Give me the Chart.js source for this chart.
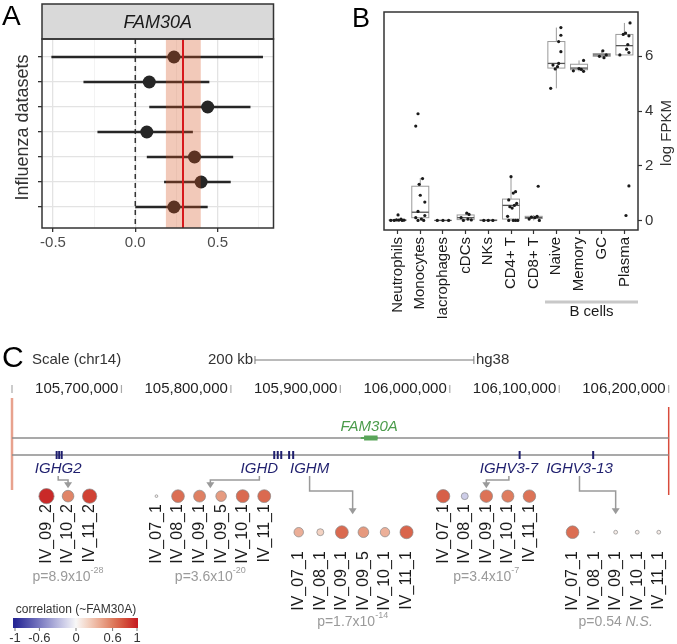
<!DOCTYPE html>
<html>
<head>
<meta charset="utf-8">
<script src="https://cdn.jsdelivr.net/npm/chart.js@4.4.1/dist/chart.umd.min.js"></script>
<style>
    body { margin: 0; background: #fff; width: 677px; height: 644px; position: relative; overflow: hidden; }
    canvas { position: absolute; }
    #chartA { left: 0; top: 0; }
    #chartB { left: 280px; top: 0; }
    #chartC { left: 0; top: 318px; }
</style>
</head>
<body>
<canvas id="chartA" width="280" height="260"></canvas>
<canvas id="chartB" width="397" height="318"></canvas>
<canvas id="chartC" width="677" height="326"></canvas>
<script>
const FONT = "'Liberation Sans', Arial, sans-serif";
Chart.defaults.font.family = FONT;
Chart.defaults.animation = false;
Chart.defaults.plugins.legend.display = false;
Chart.defaults.plugins.tooltip.enabled = false;

// ---- Panel A: effect sizes per influenza dataset ----
const datasetRows = [1, 2, 3, 4, 5, 6, 7];
const effectEst = [0.235, 0.085, 0.44, 0.07, 0.36, 0.40, 0.235];
const effectLow = [-0.51, -0.315, 0.085, -0.23, 0.07, 0.175, 0.0];
const effectHigh = [0.776, 0.45, 0.70, 0.35, 0.595, 0.58, 0.44];
const metaEst = 0.29;
const metaLow = 0.186;
const metaHigh = 0.398;
const xTicksA = [-0.5, -0.25, 0, 0.25, 0.5, 0.75];
const xLabelsA = [-0.5, 0, 0.5];

// ---- Panel B: FAM30A expression per cell type ----
const cellTypes = ['Neutrophils', 'Monocytes', 'Macrophages', 'cDCs', 'NKs', 'CD4+ T', 'CD8+ T', 'Naive', 'Memory', 'GC', 'Plasma'];
const cellValues = [
    [0, 0, 0.01, 0, 0.02, 0.05, 0.2, 0.01],
    [0, 0, 0.05, 0.1, 0.18, 0.33, 0.67, 0.92, 1.32, 1.53, 3.45, 3.9],
    [0, 0, 0],
    [0, 0.02, 0.05, 0.1, 0.22, 0.27],
    [0, 0, 0],
    [0, 0, 0, 0, 0.15, 0.45, 0.5, 0.55, 0.62, 0.75, 1.0, 1.05, 1.6],
    [0, 0.05, 0.1, 0.12, 0.15, 1.25],
    [4.83, 5.54, 5.62, 5.68, 5.74, 6.17, 6.54, 6.77, 7.05],
    [5.45, 5.47, 5.52, 5.55, 5.85],
    [5.95, 6.0, 6.05, 6.2],
    [0.18, 1.26, 6.05, 6.14, 6.26, 6.43, 6.75, 6.8, 6.85, 7.22]
];
const cellJitter = [
    [-0.3, -0.15, 0.05, 0.2, -0.05, 0.15, 0.02, 0.28],
    [-0.1, 0.15, 0.05, -0.2, 0.2, -0.1, 0.2, 0.0, -0.05, 0.1, -0.2, -0.1],
    [-0.25, 0, 0.25],
    [-0.1, 0.25, 0.1, -0.2, 0.15, 0.05],
    [-0.2, 0, 0.2],
    [-0.1, 0.1, 0.2, 0.3, -0.15, 0.05, -0.05, 0.15, 0.25, -0.1, 0.1, 0.2, 0.0],
    [0.25, -0.2, 0.05, -0.1, 0.15, 0.2],
    [-0.25, -0.05, 0.05, -0.15, 0.1, 0.2, 0.1, 0.2, 0.2],
    [0.2, -0.25, 0.1, 0.0, 0.2],
    [0.1, -0.1, 0.2, 0.05],
    [0.07, 0.2, -0.2, 0.2, 0.1, 0.15, 0.2, -0.05, 0.05, 0.25]
];
const boxLow = [0, 0, 0, 0, 0, 0, 0, 4.83, 5.45, 5.95, 6.05];
const boxQ1 = [0, 0.1, 0, 0.03, 0, 0.05, 0.07, 5.57, 5.51, 6.0, 6.05];
const boxMed = [0.01, 0.3, 0, 0.1, 0, 0.55, 0.1, 5.74, 5.57, 6.05, 6.39];
const boxQ3 = [0.02, 1.25, 0, 0.2, 0.02, 0.78, 0.15, 6.54, 5.71, 6.1, 6.8];
const boxHigh = [0.05, 1.55, 0, 0.27, 0, 1.6, 0.2, 7.05, 5.85, 6.2, 7.22];
const yTicksB = [0, 2, 4, 6];

// ---- Panel C: IGH locus genes and FAM30A correlations ----
const coordTicks = [105700000, 105800000, 105900000, 106000000, 106100000, 106200000];
const geneNames = ['IGHG2', 'IGHD', 'IGHM', 'IGHV3-7', 'IGHV3-13'];
const geneExons = [
    [105640800, 105643100, 105645400],
    [105839600, 105842800, 105846000],
    [105853200, 105856900],
    [106063800],
    [106131000]
];
const geneLabelAt = [105642200, 105826000, 105871900, 106054000, 106118500];
const fam30aStart = 105918600;
const fam30aEnd = 105934000;
const sampleIds = [
    ['IV_09_2', 'IV_10_2', 'IV_11_2'],
    ['IV_07_1', 'IV_08_1', 'IV_09_1', 'IV_09_5', 'IV_10_1', 'IV_11_1'],
    ['IV_07_1', 'IV_08_1', 'IV_09_1', 'IV_09_5', 'IV_10_1', 'IV_11_1'],
    ['IV_07_1', 'IV_08_1', 'IV_09_1', 'IV_10_1', 'IV_11_1'],
    ['IV_07_1', 'IV_08_1', 'IV_09_1', 'IV_10_1', 'IV_11_1']
];
const corrValues = [
    [0.95, 0.56, 0.85],
    [0.03, 0.66, 0.58, 0.46, 0.68, 0.68],
    [0.37, 0.2, 0.68, 0.47, 0.36, 0.7],
    [0.72, -0.2, 0.64, 0.6, 0.64],
    [0.66, 0.005, 0.06, 0.06, 0.06]
];
const pMantissa = ['8.9', '3.6', '1.7', '3.4', '0.54'];
const pExponent = ['-28', '-20', '-14', '-7', ''];
const pNote = ['', '', '', '', 'N.S.'];
const cbTicks = [-1, -0.6, 0, 0.6, 1];

// layout of the bubble groups (slot units / row index)
const groupSlot = [1.6, 6.7, 13.3, 20.0, 26.0];
const groupRow = [0, 0, 1, 0, 1];

const posStops = [[0, [248, 248, 248]], [0.2, [243, 210, 194]], [0.4, [234, 168, 143]], [0.6, [222, 124, 94]], [0.8, [211, 78, 58]], [1, [198, 28, 34]]];
const negStops = [[0, [248, 248, 248]], [0.2, [205, 205, 232]], [0.6, [120, 120, 192]], [1, [38, 38, 148]]];

function corrColor(c) {
    const stops = c >= 0 ? posStops : negStops;
    const a = Math.min(1, Math.abs(c));
    for (let i = 1; i < stops.length; i++) {
        if (a <= stops[i][0]) {
            const [v0, c0] = stops[i - 1];
            const [v1, c1] = stops[i];
            const t = (a - v0) / (v1 - v0);
            return `rgb(${c0.map((ch, k) => Math.round(ch + (c1[k] - ch) * t)).join(',')})`;
        }
    }
    return 'rgb(198,28,34)';
}

function vText(ctx, text, x, y, align) {
    ctx.save();
    ctx.translate(x, y);
    ctx.rotate(-Math.PI / 2);
    ctx.textAlign = align || 'center';
    ctx.textBaseline = 'middle';
    ctx.fillText(text, 0, 0);
    ctx.restore();
}

// ================= Panel A =================
const forestPlugin = {
    id: 'forest',
    beforeDatasetsDraw(chart) {
        const { ctx, chartArea: ca, scales: { x, y } } = chart;
        ctx.save();
        // dashed zero line
        ctx.strokeStyle = '#333';
        ctx.lineWidth = 1.5;
        ctx.setLineDash([5, 4]);
        ctx.beginPath();
        ctx.moveTo(x.getPixelForValue(0), ca.top);
        ctx.lineTo(x.getPixelForValue(0), ca.bottom);
        ctx.stroke();
        ctx.setLineDash([]);
        // confidence intervals
        ctx.strokeStyle = '#262626';
        ctx.lineWidth = 2.5;
        datasetRows.forEach((r, i) => {
            const py = y.getPixelForValue(r);
            ctx.beginPath();
            ctx.moveTo(x.getPixelForValue(effectLow[i]), py);
            ctx.lineTo(x.getPixelForValue(effectHigh[i]), py);
            ctx.stroke();
        });
        ctx.restore();
    },
    afterDatasetsDraw(chart) {
        const { ctx, chartArea: ca, scales: { x } } = chart;
        ctx.save();
        const x0 = x.getPixelForValue(metaLow);
        const x1 = x.getPixelForValue(metaHigh);
        ctx.fillStyle = 'rgba(214,80,30,0.31)';
        ctx.fillRect(x0, ca.top, x1 - x0, ca.bottom - ca.top);
        ctx.strokeStyle = '#d7191c';
        ctx.lineWidth = 2;
        ctx.beginPath();
        ctx.moveTo(x.getPixelForValue(metaEst), ca.top);
        ctx.lineTo(x.getPixelForValue(metaEst), ca.bottom);
        ctx.stroke();
        ctx.restore();
    },
    afterDraw(chart) {
        const { ctx, chartArea: ca } = chart;
        ctx.save();
        // facet strip
        ctx.fillStyle = '#d9d9d9';
        ctx.fillRect(ca.left, 4, ca.right - ca.left, ca.top - 4);
        ctx.strokeStyle = '#333';
        ctx.lineWidth = 1.5;
        ctx.strokeRect(ca.left, 4, ca.right - ca.left, ca.top - 4);
        ctx.strokeRect(ca.left, ca.top, ca.right - ca.left, ca.bottom - ca.top);
        ctx.fillStyle = '#1a1a1a';
        ctx.font = `italic 18px ${FONT}`;
        ctx.textAlign = 'center';
        ctx.textBaseline = 'middle';
        ctx.fillText('FAM30A', (ca.left + ca.right) / 2, (ca.top + 4) / 2 + 1);
        // axis title
        ctx.fillStyle = '#333';
        ctx.font = `18px ${FONT}`;
        vText(ctx, 'Influenza datasets', 23, (ca.top + ca.bottom) / 2 - 6);
        // panel letter
        ctx.fillStyle = '#000';
        ctx.font = `28px ${FONT}`;
        ctx.textAlign = 'left';
        ctx.textBaseline = 'alphabetic';
        ctx.fillText('A', 2, 25);
        ctx.restore();
    }
};

new Chart(document.getElementById('chartA'), {
    type: 'scatter',
    data: {
        datasets: [{
            data: datasetRows.map((r, i) => ({ x: effectEst[i], y: r })),
            pointRadius: 6.5,
            backgroundColor: '#262626',
            borderWidth: 0
        }]
    },
    options: {
        responsive: false,
        events: [],
        layout: { padding: { top: 39, right: 6, left: 0, bottom: 0 } },
        scales: {
            x: {
                type: 'linear',
                min: -0.567,
                max: 0.84,
                afterBuildTicks: s => { s.ticks = xTicksA.map(v => ({ value: v })); },
                afterFit: s => { s.height = 32; },
                border: { display: false },
                grid: {
                    color: c => xLabelsA.includes(c.tick && c.tick.value) ? '#e3e3e3' : '#f0f0f0',
                    lineWidth: c => xLabelsA.includes(c.tick && c.tick.value) ? 1.3 : 0.8,
                    tickColor: c => xLabelsA.includes(c.tick && c.tick.value) ? '#333' : 'rgba(0,0,0,0)',
                    tickLength: 4,
                    tickWidth: 1.3
                },
                ticks: {
                    autoSkip: false,
                    maxRotation: 0,
                    padding: 2,
                    color: '#4d4d4d',
                    font: { size: 15 },
                    callback: v => xLabelsA.includes(v) ? v.toFixed(1) : ''
                }
            },
            y: {
                type: 'linear',
                reverse: true,
                min: 0.28,
                max: 7.84,
                afterBuildTicks: s => { s.ticks = datasetRows.map(v => ({ value: v })); },
                afterFit: s => { s.width = 42; },
                border: { display: false },
                grid: { color: '#e3e3e3', lineWidth: 1.3, tickColor: '#333', tickLength: 4, tickWidth: 1.3 },
                ticks: { callback: () => '' }
            }
        }
    },
    plugins: [forestPlugin]
});

// ================= Panel B =================
const boxPlugin = {
    id: 'boxes',
    beforeDatasetsDraw(chart) {
        const { ctx, scales: { x, y } } = chart;
        const half = x.getPixelForValue(0.375) - x.getPixelForValue(0);
        ctx.save();
        ctx.lineWidth = 1;
        cellTypes.forEach((name, i) => {
            const cx = x.getPixelForValue(i);
            ctx.strokeStyle = '#9a9a9a';
            ctx.beginPath();
            ctx.moveTo(cx, y.getPixelForValue(boxLow[i]));
            ctx.lineTo(cx, y.getPixelForValue(boxQ1[i]));
            ctx.moveTo(cx, y.getPixelForValue(boxQ3[i]));
            ctx.lineTo(cx, y.getPixelForValue(boxHigh[i]));
            ctx.stroke();
            const top = y.getPixelForValue(boxQ3[i]);
            const bot = y.getPixelForValue(boxQ1[i]);
            ctx.fillStyle = '#fff';
            ctx.fillRect(cx - half, top, 2 * half, bot - top);
            ctx.strokeRect(cx - half, top, 2 * half, bot - top);
            ctx.strokeStyle = '#555';
            ctx.lineWidth = 1.3;
            ctx.beginPath();
            ctx.moveTo(cx - half, y.getPixelForValue(boxMed[i]));
            ctx.lineTo(cx + half, y.getPixelForValue(boxMed[i]));
            ctx.stroke();
            ctx.lineWidth = 1;
        });
        ctx.restore();
    },
    afterDraw(chart) {
        const { ctx, chartArea: ca, scales: { x } } = chart;
        ctx.save();
        ctx.strokeStyle = '#333';
        ctx.lineWidth = 1.5;
        ctx.strokeRect(ca.left, ca.top, ca.right - ca.left, ca.bottom - ca.top);
        // B cells bracket
        ctx.strokeStyle = '#c8c8c8';
        ctx.lineWidth = 3;
        ctx.beginPath();
        ctx.moveTo(x.getPixelForValue(6.5), 302);
        ctx.lineTo(x.getPixelForValue(10.6), 302);
        ctx.stroke();
        ctx.fillStyle = '#1a1a1a';
        ctx.font = `15px ${FONT}`;
        ctx.textAlign = 'center';
        ctx.textBaseline = 'middle';
        ctx.fillText('B cells', (x.getPixelForValue(6.5) + x.getPixelForValue(10.6)) / 2, 312);
        ctx.fillStyle = '#333';
        vText(ctx, 'log FPKM', 387, 133);
        ctx.fillStyle = '#000';
        ctx.font = `27px ${FONT}`;
        ctx.textAlign = 'left';
        ctx.textBaseline = 'alphabetic';
        ctx.fillText('B', 72, 27);
        ctx.restore();
    }
};

const pointsB = [];
cellValues.forEach((vals, i) => vals.forEach((v, k) => pointsB.push({ x: i + cellJitter[i][k], y: v })));

new Chart(document.getElementById('chartB'), {
    type: 'scatter',
    data: {
        datasets: [{
            data: pointsB,
            pointRadius: 1.6,
            backgroundColor: '#1a1a1a',
            borderWidth: 0
        }]
    },
    options: {
        responsive: false,
        events: [],
        layout: { padding: { top: 5, left: 104, right: 0, bottom: 0 } },
        scales: {
            x: {
                type: 'linear',
                min: -0.6,
                max: 10.6,
                afterBuildTicks: s => { s.ticks = cellTypes.map((c, i) => ({ value: i })); },
                afterFit: s => { s.height = 88; },
                border: { display: false },
                grid: { drawOnChartArea: false, tickColor: '#333', tickLength: 4, tickWidth: 1.2 },
                ticks: {
                    autoSkip: false,
                    minRotation: 90,
                    maxRotation: 90,
                    padding: 3,
                    color: '#1a1a1a',
                    font: { size: 15 },
                    callback: v => cellTypes[v]
                }
            },
            y: {
                type: 'linear',
                position: 'right',
                min: -0.35,
                max: 7.62,
                afterBuildTicks: s => { s.ticks = yTicksB.map(v => ({ value: v })); },
                afterFit: s => { s.width = 39; },
                border: { display: false },
                grid: { drawOnChartArea: false, tickColor: '#333', tickLength: 4, tickWidth: 1.2 },
                ticks: { padding: 3, color: '#333', font: { size: 15 } }
            }
        }
    },
    plugins: [boxPlugin]
});

// ================= Panel C =================
function drawP(ctx, cx, y, mant, exp, note) {
    const main = exp ? `p=${mant}x10` : `p=${mant}`;
    ctx.font = `14px ${FONT}`;
    const w1 = ctx.measureText(main).width;
    ctx.font = `9px ${FONT}`;
    const w2 = exp ? ctx.measureText(exp).width : 0;
    ctx.font = `italic 14px ${FONT}`;
    const w3 = note ? ctx.measureText(' ' + note).width : 0;
    let px = cx - (w1 + w2 + w3) / 2;
    ctx.textAlign = 'left';
    ctx.textBaseline = 'middle';
    ctx.fillStyle = '#9a9a9a';
    ctx.font = `14px ${FONT}`;
    ctx.fillText(main, px, y);
    px += w1;
    if (exp) {
        ctx.font = `9px ${FONT}`;
        ctx.fillText(exp, px, y - 6);
        px += w2;
    }
    if (note) {
        ctx.font = `italic 14px ${FONT}`;
        ctx.fillText(' ' + note, px, y);
    }
}

const locusPlugin = {
    id: 'locus',
    beforeDatasetsDraw(chart) {
        const { ctx, scales: { x } } = chart;
        const meta = chart.getDatasetMeta(0);
        ctx.save();
        ctx.fillStyle = '#000';
        ctx.font = `30px ${FONT}`;
        ctx.textAlign = 'left';
        ctx.textBaseline = 'alphabetic';
        ctx.fillText('C', 2, 49);

        ctx.fillStyle = '#333';
        ctx.font = `15px ${FONT}`;
        ctx.textBaseline = 'middle';
        ctx.fillText('Scale (chr14)', 32, 42);
        // 200 kb scale bar
        const sb0 = x.getPixelForValue(105822000);
        const sb1 = x.getPixelForValue(106022000);
        ctx.strokeStyle = '#777';
        ctx.lineWidth = 1;
        ctx.beginPath();
        ctx.moveTo(sb0, 42); ctx.lineTo(sb1, 42);
        ctx.moveTo(sb0, 38); ctx.lineTo(sb0, 46);
        ctx.moveTo(sb1, 38); ctx.lineTo(sb1, 46);
        ctx.stroke();
        ctx.textAlign = 'right';
        ctx.fillText('200 kb', sb0 - 2, 42);
        ctx.textAlign = 'left';
        ctx.fillText('hg38', sb1 + 2, 42);

        // coordinate ruler
        ctx.strokeStyle = '#aaa';
        ctx.lineWidth = 1.2;
        ctx.beginPath();
        ctx.moveTo(x.getPixelForValue(x.min), 67);
        ctx.lineTo(x.getPixelForValue(x.min), 75);
        ctx.stroke();
        ctx.fillStyle = '#222';
        ctx.textAlign = 'right';
        coordTicks.forEach(v => {
            const px = x.getPixelForValue(v);
            ctx.beginPath();
            ctx.moveTo(px, 67); ctx.lineTo(px, 75);
            ctx.stroke();
            ctx.fillText(v.toLocaleString('en-US'), px - 3, 71);
        });

        // region edges
        ctx.strokeStyle = '#e8a28e';
        ctx.lineWidth = 2.5;
        ctx.beginPath();
        ctx.moveTo(x.getPixelForValue(x.min), 80); ctx.lineTo(x.getPixelForValue(x.min), 172);
        ctx.stroke();
        ctx.strokeStyle = '#d84c3c';
        ctx.lineWidth = 1.5;
        ctx.beginPath();
        ctx.moveTo(x.getPixelForValue(x.max), 89); ctx.lineTo(x.getPixelForValue(x.max), 177);
        ctx.stroke();

        // tracks
        ctx.strokeStyle = '#8c8c8c';
        ctx.lineWidth = 1.6;
        [120, 137].forEach(ty => {
            ctx.beginPath();
            ctx.moveTo(x.getPixelForValue(x.min), ty);
            ctx.lineTo(x.getPixelForValue(x.max), ty);
            ctx.stroke();
        });

        // FAM30A
        const f0 = x.getPixelForValue(fam30aStart);
        const f1 = x.getPixelForValue(fam30aEnd);
        ctx.fillStyle = '#5aa55a';
        ctx.fillRect(f0, 119, f1 - f0, 2);
        ctx.fillRect(f0 + (f1 - f0) * 0.2, 117.5, (f1 - f0) * 0.8, 5);
        ctx.fillStyle = '#4c9c4c';
        ctx.font = `italic 15px ${FONT}`;
        ctx.textAlign = 'center';
        ctx.fillText('FAM30A', (f0 + f1) / 2, 109);

        // IGH genes
        ctx.fillStyle = '#1f1f6e';
        geneExons.forEach(ex => ex.forEach(v => ctx.fillRect(x.getPixelForValue(v) - 1, 133, 2, 8)));
        ctx.font = `italic 15px ${FONT}`;
        geneNames.forEach((g, gi) => ctx.fillText(g, x.getPixelForValue(geneLabelAt[gi]), 151));

        // arrows from gene to its sample group
        ctx.strokeStyle = '#9a9a9a';
        ctx.fillStyle = '#9a9a9a';
        ctx.lineWidth = 1.5;
        geneNames.forEach((g, gi) => {
            const els = meta.data.filter((el, k) => chart.data.datasets[0].data[k].g === gi);
            const tx = els.reduce((s, el) => s + el.x, 0) / els.length;
            const rowY = els[0].y;
            const upper = groupRow[gi] === 0;
            const midY = upper ? 162 : 173;
            const tip = upper ? rowY - 8 : rowY - 18;
            const sx = x.getPixelForValue(geneLabelAt[gi]);
            ctx.beginPath();
            ctx.moveTo(sx, 158);
            ctx.lineTo(sx, midY);
            ctx.lineTo(tx, midY);
            ctx.lineTo(tx, tip - 5);
            ctx.stroke();
            ctx.beginPath();
            ctx.moveTo(tx - 4, tip - 6);
            ctx.lineTo(tx + 4, tip - 6);
            ctx.lineTo(tx, tip);
            ctx.closePath();
            ctx.fill();
        });
        ctx.restore();
    },
    afterDatasetsDraw(chart) {
        const { ctx } = chart;
        const meta = chart.getDatasetMeta(0);
        const pts = chart.data.datasets[0].data;
        ctx.save();
        ctx.fillStyle = '#1a1a1a';
        ctx.font = `16px ${FONT}`;
        meta.data.forEach((el, k) => {
            const off = groupRow[pts[k].g] === 0 ? 8 : 19;
            vText(ctx, pts[k].id, el.x, el.y + off, 'right');
        });
        geneNames.forEach((g, gi) => {
            const els = meta.data.filter((el, k) => pts[k].g === gi);
            const cx = els.reduce((s, el) => s + el.x, 0) / els.length;
            const py = groupRow[gi] === 0 ? 259 : 304;
            drawP(ctx, cx, py, pMantissa[gi], pExponent[gi], pNote[gi]);
        });

        // colour bar legend
        const cbX = v => 15 + (v + 1) / 2 * 122;
        const grad = ctx.createLinearGradient(cbX(-1), 0, cbX(1), 0);
        for (let v = -1; v <= 1.0001; v += 0.1) grad.addColorStop(Math.min(1, (v + 1) / 2), corrColor(v));
        ctx.fillStyle = grad;
        ctx.fillRect(cbX(-1) - 2, 300, cbX(1) - cbX(-1) + 3, 10);
        ctx.fillStyle = '#333';
        ctx.font = `12px ${FONT}`;
        ctx.textAlign = 'center';
        ctx.textBaseline = 'middle';
        ctx.fillText('correlation (~FAM30A)', cbX(0), 292);
        ctx.font = `13px ${FONT}`;
        ctx.strokeStyle = '#777';
        ctx.lineWidth = 1;
        cbTicks.forEach(v => {
            ctx.beginPath();
            ctx.moveTo(cbX(v), 310); ctx.lineTo(cbX(v), 313);
            ctx.stroke();
            ctx.fillText(String(v), cbX(v), 320);
        });
        ctx.restore();
    }
};

const bubbles = [];
sampleIds.forEach((ids, gi) => ids.forEach((id, si) => {
    const c = corrValues[gi][si];
    bubbles.push({ x: groupSlot[gi] + si, y: groupRow[gi], r: 7.8 * Math.sqrt(Math.abs(c)), c, g: gi, id });
}));

new Chart(document.getElementById('chartC'), {
    type: 'bubble',
    data: {
        datasets: [{
            data: bubbles,
            xAxisID: 'slot',
            yAxisID: 'row',
            clip: false,
            backgroundColor: ctx => corrColor(ctx.raw.c),
            borderColor: '#8a8a8a',
            borderWidth: 0.7
        }]
    },
    options: {
        responsive: false,
        events: [],
        layout: { padding: { left: 12, right: 4, top: 0, bottom: 0 } },
        scales: {
            x: { type: 'linear', min: 105600000, max: 106200000, display: false },
            slot: { type: 'linear', axis: 'x', position: 'bottom', min: 0, max: 30.46, display: false },
            row: { type: 'linear', axis: 'y', position: 'left', reverse: true, min: -4.71, max: 3.87, display: false }
        }
    },
    plugins: [locusPlugin]
});
</script>
</body>
</html>
